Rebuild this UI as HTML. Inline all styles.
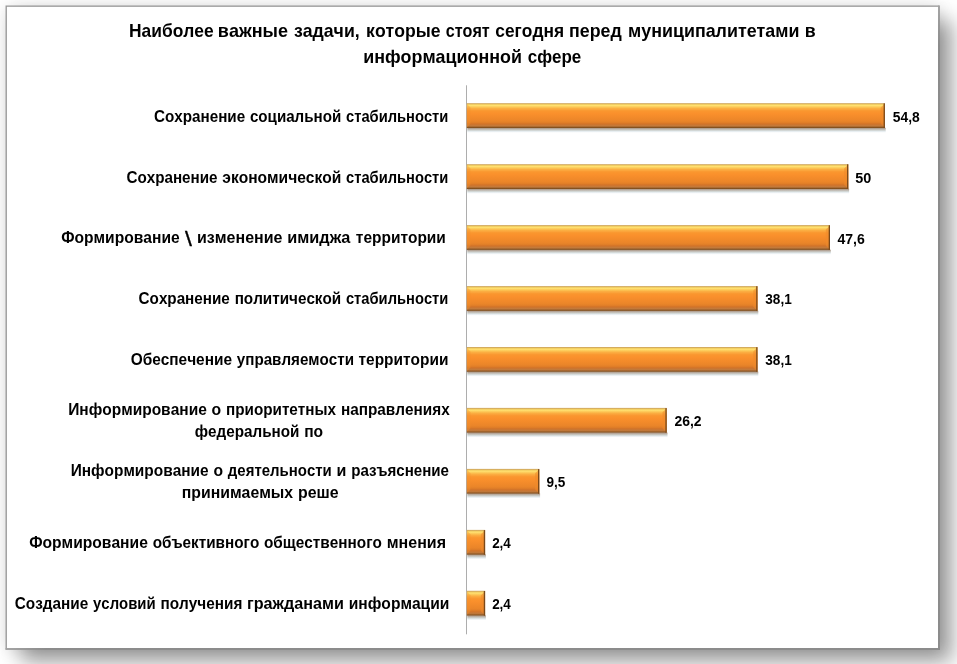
<!DOCTYPE html>
<html lang="ru"><head><meta charset="utf-8"><title>Диаграмма</title>
<style>
html,body{margin:0;padding:0}
body{width:957px;height:664px;overflow:hidden;background:#fff;position:relative;font-family:"Liberation Sans",sans-serif}
#frame{position:absolute;left:7px;top:7px;width:931px;height:641px;background:#fff;
 box-shadow:14px 14px 20px 0 rgba(0,0,0,.38),0 0 16px 0 rgba(0,0,0,.15)}
svg{position:absolute;left:0;top:0}
text{font-family:"Liberation Sans",sans-serif;font-weight:bold;fill:#000;font-kerning:none;white-space:pre}
</style></head><body>
<div id="frame"></div>
<svg width="957" height="664" viewBox="0 0 957 664">
<defs>
<linearGradient id="g" x1="0" y1="0" x2="0" y2="1">
<stop offset="0" stop-color="#c79c52"/>
<stop offset="0.025" stop-color="#d8b060"/>
<stop offset="0.052" stop-color="#f0cc60"/>
<stop offset="0.093" stop-color="#ffe070"/>
<stop offset="0.133" stop-color="#fdd060"/>
<stop offset="0.173" stop-color="#fcc050"/>
<stop offset="0.214" stop-color="#fbae42"/>
<stop offset="0.254" stop-color="#fba53c"/>
<stop offset="0.294" stop-color="#fa9a32"/>
<stop offset="0.335" stop-color="#fa952e"/>
<stop offset="0.42" stop-color="#fa902c"/>
<stop offset="0.58" stop-color="#f28a2a"/>
<stop offset="0.72" stop-color="#ea8529"/>
<stop offset="0.785" stop-color="#e07e28"/>
<stop offset="0.825" stop-color="#d57528"/>
<stop offset="0.866" stop-color="#cb7530"/>
<stop offset="0.906" stop-color="#c47a3a"/>
<stop offset="0.947" stop-color="#a86830"/>
<stop offset="0.975" stop-color="#85521f"/>
<stop offset="1" stop-color="#7d4b1c"/>
</linearGradient>
<linearGradient id="sh" x1="0" y1="0" x2="0" y2="1">
<stop offset="0" stop-color="rgb(150,120,96)" stop-opacity=".85"/>
<stop offset="0.25" stop-color="rgb(135,115,97)" stop-opacity=".55"/>
<stop offset="0.5" stop-color="rgb(115,125,115)" stop-opacity=".35"/>
<stop offset="0.75" stop-color="rgb(100,140,160)" stop-opacity=".14"/>
<stop offset="1" stop-color="rgb(100,140,170)" stop-opacity="0"/>
</linearGradient>
<linearGradient id="br" gradientUnits="userSpaceOnUse" x1="0" y1="6" x2="0" y2="46">
<stop offset="0" stop-color="#a2a2a2"/><stop offset="1" stop-color="#8b8b8b"/>
</linearGradient>
<linearGradient id="bb" gradientUnits="userSpaceOnUse" x1="6" y1="0" x2="46" y2="0">
<stop offset="0" stop-color="#a2a2a2"/><stop offset="1" stop-color="#8b8b8b"/>
</linearGradient>
</defs>
<path d="M6.2 649.4V6.2H939.4" fill="none" stroke="#979797" stroke-width="1.3"/>
<rect x="938.05" y="5.55" width="1.9" height="644.4" fill="url(#br)"/>
<rect x="5.55" y="648.05" width="934.4" height="1.9" fill="url(#bb)"/>
<rect x="466.0" y="85.3" width="1" height="549.0" fill="#adadad"/>
<rect x="467.3" y="127.8" width="418.4" height="5" fill="url(#sh)"/>
<rect x="466.8" y="103.2" width="418.1" height="24.8" fill="url(#g)"/>
<path d="M884.9 103.6L880.7 107.6V123.8L884.9 127.6Z" fill="#ee8a2b" opacity=".55"/>
<rect x="883.6" y="103.4" width="1.3" height="24.6" fill="#7a491a"/>
<path d="M466.8 103.8L470.4 107.6V123.8L466.8 127.4Z" fill="#f4902e" opacity=".4"/>
<text x="892.77" y="121.70" font-size="14.3" textLength="26.95" lengthAdjust="spacingAndGlyphs">54,8</text>
<rect x="467.3" y="188.8" width="381.8" height="5" fill="url(#sh)"/>
<rect x="466.8" y="164.2" width="381.5" height="24.8" fill="url(#g)"/>
<path d="M848.3 164.6L844.1 168.6V184.8L848.3 188.6Z" fill="#ee8a2b" opacity=".55"/>
<rect x="847.0" y="164.3" width="1.3" height="24.6" fill="#7a491a"/>
<path d="M466.8 164.8L470.4 168.6V184.8L466.8 188.4Z" fill="#f4902e" opacity=".4"/>
<text x="855.36" y="182.60" font-size="14.3" textLength="16.03" lengthAdjust="spacingAndGlyphs">50</text>
<rect x="467.3" y="249.7" width="363.5" height="5" fill="url(#sh)"/>
<rect x="466.8" y="225.1" width="363.2" height="24.8" fill="url(#g)"/>
<path d="M830.0 225.5L825.8 229.5V245.7L830.0 249.5Z" fill="#ee8a2b" opacity=".55"/>
<rect x="828.7" y="225.3" width="1.3" height="24.6" fill="#7a491a"/>
<path d="M466.8 225.7L470.4 229.5V245.7L466.8 249.3Z" fill="#f4902e" opacity=".4"/>
<text x="837.49" y="243.50" font-size="14.3" textLength="27.32" lengthAdjust="spacingAndGlyphs">47,6</text>
<rect x="467.3" y="310.7" width="291.0" height="5" fill="url(#sh)"/>
<rect x="466.8" y="286.1" width="290.7" height="24.8" fill="url(#g)"/>
<path d="M757.5 286.4L753.3 290.4V306.7L757.5 310.5Z" fill="#ee8a2b" opacity=".55"/>
<rect x="756.2" y="286.2" width="1.3" height="24.6" fill="#7a491a"/>
<path d="M466.8 286.7L470.4 290.4V306.7L466.8 310.2Z" fill="#f4902e" opacity=".4"/>
<text x="765.29" y="304.40" font-size="14.3" textLength="26.49" lengthAdjust="spacingAndGlyphs">38,1</text>
<rect x="467.3" y="371.6" width="291.0" height="5" fill="url(#sh)"/>
<rect x="466.8" y="347.0" width="290.7" height="24.8" fill="url(#g)"/>
<path d="M757.5 347.4L753.3 351.4V367.6L757.5 371.4Z" fill="#ee8a2b" opacity=".55"/>
<rect x="756.2" y="347.2" width="1.3" height="24.6" fill="#7a491a"/>
<path d="M466.8 347.6L470.4 351.4V367.6L466.8 371.2Z" fill="#f4902e" opacity=".4"/>
<text x="765.29" y="365.30" font-size="14.3" textLength="26.49" lengthAdjust="spacingAndGlyphs">38,1</text>
<rect x="467.3" y="432.6" width="200.2" height="5" fill="url(#sh)"/>
<rect x="466.8" y="407.9" width="199.9" height="24.8" fill="url(#g)"/>
<path d="M666.7 408.3L662.5 412.3V428.6L666.7 432.4Z" fill="#ee8a2b" opacity=".55"/>
<rect x="665.4" y="408.1" width="1.3" height="24.6" fill="#7a491a"/>
<path d="M466.8 408.6L470.4 412.3V428.6L466.8 432.1Z" fill="#f4902e" opacity=".4"/>
<text x="674.42" y="426.20" font-size="14.3" textLength="27.14" lengthAdjust="spacingAndGlyphs">26,2</text>
<rect x="467.3" y="493.5" width="72.8" height="5" fill="url(#sh)"/>
<rect x="466.8" y="468.9" width="72.5" height="24.8" fill="url(#g)"/>
<path d="M539.3 469.3L535.1 473.3V489.5L539.3 493.3Z" fill="#ee8a2b" opacity=".55"/>
<rect x="538.0" y="469.1" width="1.3" height="24.6" fill="#7a491a"/>
<path d="M466.8 469.5L470.4 473.3V489.5L466.8 493.1Z" fill="#f4902e" opacity=".4"/>
<text x="546.43" y="487.10" font-size="14.3" textLength="18.85" lengthAdjust="spacingAndGlyphs">9,5</text>
<rect x="467.3" y="554.4" width="18.6" height="5" fill="url(#sh)"/>
<rect x="466.8" y="529.9" width="18.3" height="24.8" fill="url(#g)"/>
<path d="M485.1 530.2L480.9 534.2V550.4L485.1 554.2Z" fill="#ee8a2b" opacity=".55"/>
<rect x="483.8" y="530.1" width="1.3" height="24.6" fill="#7a491a"/>
<path d="M466.8 530.5L470.4 534.2V550.4L466.8 554.0Z" fill="#f4902e" opacity=".4"/>
<text x="492.13" y="548.00" font-size="14.3" textLength="18.74" lengthAdjust="spacingAndGlyphs">2,4</text>
<rect x="467.3" y="615.4" width="18.6" height="5" fill="url(#sh)"/>
<rect x="466.8" y="590.8" width="18.3" height="24.8" fill="url(#g)"/>
<path d="M485.1 591.2L480.9 595.2V611.4L485.1 615.2Z" fill="#ee8a2b" opacity=".55"/>
<rect x="483.8" y="591.0" width="1.3" height="24.6" fill="#7a491a"/>
<path d="M466.8 591.4L470.4 595.2V611.4L466.8 615.0Z" fill="#f4902e" opacity=".4"/>
<text x="492.13" y="608.90" font-size="14.3" textLength="18.74" lengthAdjust="spacingAndGlyphs">2,4</text>
<g><text x="153.98" y="121.70" font-size="16.0" textLength="91.19" lengthAdjust="spacingAndGlyphs">Сохранение</text> <text x="249.90" y="121.70" font-size="16.0" textLength="91.36" lengthAdjust="spacingAndGlyphs">социальной</text> <text x="346.01" y="121.70" font-size="16.0" textLength="102.31" lengthAdjust="spacingAndGlyphs">стабильности</text></g>
<g><text x="126.48" y="182.55" font-size="16.0" textLength="91.10" lengthAdjust="spacingAndGlyphs">Сохранение</text> <text x="222.33" y="182.55" font-size="16.0" textLength="119.05" lengthAdjust="spacingAndGlyphs">экономической</text> <text x="346.10" y="182.55" font-size="16.0" textLength="102.22" lengthAdjust="spacingAndGlyphs">стабильности</text></g>
<g><text x="61.16" y="243.40" font-size="16.0" textLength="118.52" lengthAdjust="spacingAndGlyphs">Формирование</text> <text x="184.90" y="245.8" font-size="21.0" style="font-weight:normal;stroke:#000;stroke-width:.3px" textLength="6.90" lengthAdjust="spacingAndGlyphs">\</text> <text x="196.97" y="243.40" font-size="16.0" textLength="85.43" lengthAdjust="spacingAndGlyphs">изменение</text> <text x="287.21" y="243.40" font-size="16.0" textLength="63.05" lengthAdjust="spacingAndGlyphs">имиджа</text> <text x="355.82" y="243.40" font-size="16.0" textLength="90.05" lengthAdjust="spacingAndGlyphs">территории</text></g>
<g><text x="138.58" y="304.25" font-size="16.0" textLength="91.24" lengthAdjust="spacingAndGlyphs">Сохранение</text> <text x="234.65" y="304.25" font-size="16.0" textLength="106.55" lengthAdjust="spacingAndGlyphs">политической</text> <text x="345.94" y="304.25" font-size="16.0" textLength="102.38" lengthAdjust="spacingAndGlyphs">стабильности</text></g>
<g><text x="130.67" y="365.10" font-size="16.0" textLength="101.35" lengthAdjust="spacingAndGlyphs">Обеспечение</text> <text x="236.81" y="365.10" font-size="16.0" textLength="117.20" lengthAdjust="spacingAndGlyphs">управляемости</text> <text x="358.54" y="365.10" font-size="16.0" textLength="89.83" lengthAdjust="spacingAndGlyphs">территории</text></g>
<g><text x="68.17" y="414.65" font-size="16.0" textLength="138.63" lengthAdjust="spacingAndGlyphs">Информирование</text> <text x="211.61" y="414.65" font-size="16.0" textLength="9.62" lengthAdjust="spacingAndGlyphs">о</text> <text x="226.00" y="414.65" font-size="16.0" textLength="110.03" lengthAdjust="spacingAndGlyphs">приоритетных</text> <text x="340.95" y="414.65" font-size="16.0" textLength="108.76" lengthAdjust="spacingAndGlyphs">направлениях</text></g>
<g><text x="194.79" y="437.25" font-size="16.0" textLength="104.56" lengthAdjust="spacingAndGlyphs">федеральной</text> <text x="304.17" y="437.25" font-size="16.0" textLength="18.94" lengthAdjust="spacingAndGlyphs">по</text></g>
<g><text x="70.68" y="475.50" font-size="16.0" textLength="137.96" lengthAdjust="spacingAndGlyphs">Информирование</text> <text x="213.43" y="475.50" font-size="16.0" textLength="9.57" lengthAdjust="spacingAndGlyphs">о</text> <text x="227.87" y="475.50" font-size="16.0" textLength="103.92" lengthAdjust="spacingAndGlyphs">деятельности</text> <text x="336.62" y="475.50" font-size="16.0" textLength="9.86" lengthAdjust="spacingAndGlyphs">и</text> <text x="351.34" y="475.50" font-size="16.0" textLength="97.67" lengthAdjust="spacingAndGlyphs">разъяснение</text></g>
<g><text x="181.80" y="498.10" font-size="16.0" textLength="111.33" lengthAdjust="spacingAndGlyphs">принимаемых</text> <text x="298.06" y="498.10" font-size="16.0" textLength="40.58" lengthAdjust="spacingAndGlyphs">реше</text></g>
<g><text x="29.16" y="547.65" font-size="16.0" textLength="118.69" lengthAdjust="spacingAndGlyphs">Формирование</text> <text x="152.69" y="547.65" font-size="16.0" textLength="106.53" lengthAdjust="spacingAndGlyphs">объективного</text> <text x="263.99" y="547.65" font-size="16.0" textLength="117.93" lengthAdjust="spacingAndGlyphs">общественного</text> <text x="386.78" y="547.65" font-size="16.0" textLength="59.24" lengthAdjust="spacingAndGlyphs">мнения</text></g>
<g><text x="14.77" y="608.50" font-size="16.0" textLength="73.51" lengthAdjust="spacingAndGlyphs">Создание</text> <text x="93.08" y="608.50" font-size="16.0" textLength="62.59" lengthAdjust="spacingAndGlyphs">условий</text> <text x="160.53" y="608.50" font-size="16.0" textLength="81.85" lengthAdjust="spacingAndGlyphs">получения</text> <text x="247.00" y="608.50" font-size="16.0" textLength="96.94" lengthAdjust="spacingAndGlyphs">гражданами</text> <text x="348.73" y="608.50" font-size="16.0" textLength="100.65" lengthAdjust="spacingAndGlyphs">информации</text></g>
<g><text x="129.04" y="36.80" font-size="17.7" textLength="84.66" lengthAdjust="spacingAndGlyphs">Наиболее</text> <text x="217.84" y="36.80" font-size="17.7" textLength="70.17" lengthAdjust="spacingAndGlyphs">важные</text> <text x="293.94" y="36.80" font-size="17.7" textLength="65.74" lengthAdjust="spacingAndGlyphs">задачи,</text> <text x="366.08" y="36.80" font-size="17.7" textLength="74.42" lengthAdjust="spacingAndGlyphs">которые</text> <text x="445.67" y="36.80" font-size="17.7" textLength="44.08" lengthAdjust="spacingAndGlyphs">стоят</text> <text x="495.32" y="36.80" font-size="17.7" textLength="68.69" lengthAdjust="spacingAndGlyphs">сегодня</text> <text x="569.06" y="36.80" font-size="17.7" textLength="52.67" lengthAdjust="spacingAndGlyphs">перед</text> <text x="628.05" y="36.80" font-size="17.7" textLength="171.38" lengthAdjust="spacingAndGlyphs">муниципалитетами</text> <text x="804.66" y="36.80" font-size="17.7" textLength="10.94" lengthAdjust="spacingAndGlyphs">в</text></g>
<g><text x="363.16" y="62.60" font-size="17.7" textLength="158.78" lengthAdjust="spacingAndGlyphs">информационной</text> <text x="527.74" y="62.60" font-size="17.7" textLength="53.54" lengthAdjust="spacingAndGlyphs">сфере</text></g>
</svg>
</body></html>
